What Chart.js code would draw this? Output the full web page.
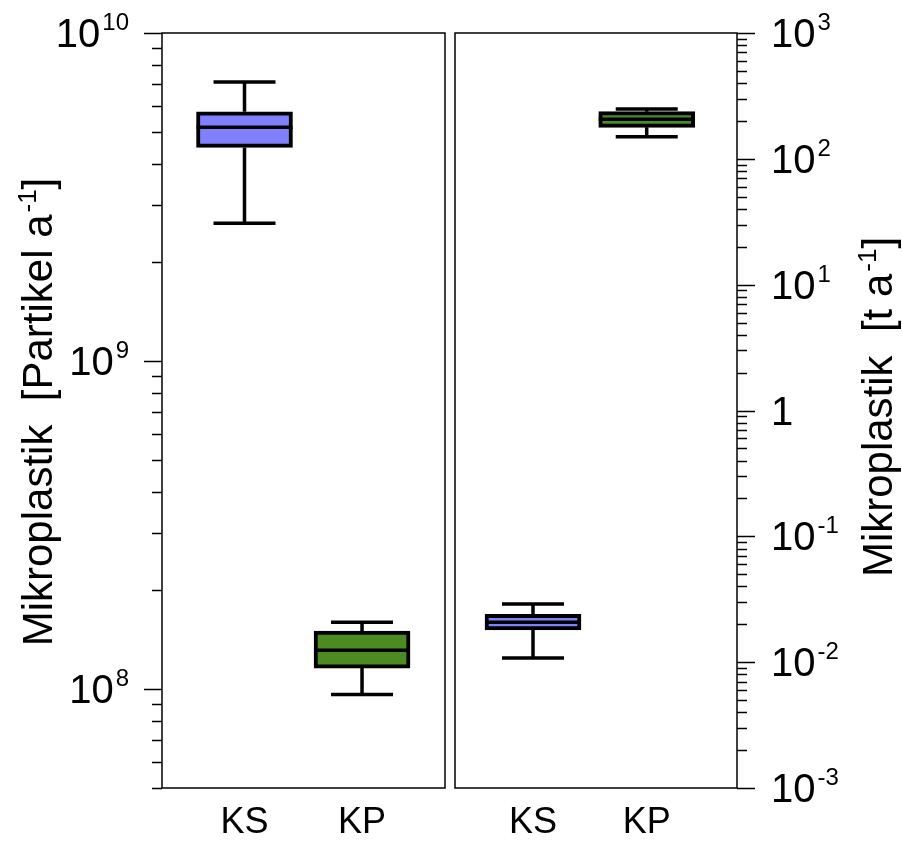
<!DOCTYPE html>
<html>
<head>
<meta charset="utf-8">
<script src="https://cdn.jsdelivr.net/npm/chart.js@4.4.0/dist/chart.umd.min.js"></script>
<style>
html, body { margin: 0; padding: 0; background: #fff; }
#wrap { position: relative; width: 902px; height: 841px; }
.panel { position: absolute; top: 0; height: 841px; }
#left { left: 0; width: 450px; }
#right { left: 450px; width: 452px; }
</style>
</head>
<body>
<div id="wrap">
  <div class="panel" id="left"><canvas id="cLeft"></canvas></div>
  <div class="panel" id="right"><canvas id="cRight"></canvas></div>
</div>
<script>
const categories = ['KS', 'KP']
const positions = [1, 2]
const boxColors = ['#8080ff', '#4b8b22']

// Mikroplastik in Partikel pro Jahr
const partMin = [2.63e9, 9.63e7]
const partQ1 = [4.48e9, 1.16e8]
const partMed = [5.16e9, 1.315e8]
const partQ3 = [5.75e9, 1.505e8]
const partMax = [7.09e9, 1.60e8]

// Mikroplastik in Tonnen pro Jahr
const tonMin = [0.0108, 150]
const tonQ1 = [0.0180, 178]
const tonMed = [0.0208, 206]
const tonQ3 = [0.0240, 237]
const tonMax = [0.0290, 249]

const leftTicks = [1e8, 1e9, 1e10]
const leftTickLabels = ['10^8', '10^9', '10^10']
const rightTicks = [1e-3, 1e-2, 1e-1, 1, 1e1, 1e2, 1e3]
const rightTickLabels = ['10^-3', '10^-2', '10^-1', '1', '10^1', '10^2', '10^3']

const FONT = "'Liberation Sans', Arial, sans-serif"

// text with one raised part: [base, sup, rest]
const drawSupText = (ctx, parts, x, y, size, supSize, supRise, align) => {
  const [base, sup, rest] = parts
  ctx.font = size + 'px ' + FONT
  const wb = ctx.measureText(base).width
  const wr = rest ? ctx.measureText(rest).width : 0
  ctx.font = supSize + 'px ' + FONT
  const ws = sup ? ctx.measureText(sup).width + 2 : 0
  const total = wb + ws + wr
  let sx = x
  if (align === 'right') sx = x - total
  if (align === 'center') sx = x - total / 2
  ctx.textAlign = 'left'
  ctx.textBaseline = 'alphabetic'
  ctx.font = size + 'px ' + FONT
  ctx.fillText(base, sx, y)
  if (sup) {
    ctx.font = supSize + 'px ' + FONT
    ctx.fillText(sup, sx + wb + 2, y - supRise)
  }
  if (rest) {
    ctx.font = size + 'px ' + FONT
    ctx.fillText(rest, sx + wb + ws, y)
  }
}

const splitLabel = (lbl) => {
  const i = lbl.indexOf('^')
  if (i < 0) return [lbl, '', '']
  return [lbl.slice(0, i), lbl.slice(i + 1), '']
}

const boxPlugin = {
  id: 'boxes',
  beforeDatasetsDraw(chart, args, opts) {
    const ctx = chart.ctx
    const x = chart.scales.x
    const y = chart.scales.y
    ctx.save()
    ctx.strokeStyle = '#000'
    ctx.lineWidth = 3.5
    opts.min.forEach((v, i) => {
      const px = x.getPixelForValue(positions[i])
      ctx.beginPath()
      ctx.moveTo(px, y.getPixelForValue(opts.max[i]))
      ctx.lineTo(px, y.getPixelForValue(opts.q3[i]))
      ctx.moveTo(px, y.getPixelForValue(opts.q1[i]))
      ctx.lineTo(px, y.getPixelForValue(v))
      ctx.moveTo(px - 31, y.getPixelForValue(opts.max[i]))
      ctx.lineTo(px + 31, y.getPixelForValue(opts.max[i]))
      ctx.moveTo(px - 31, y.getPixelForValue(v))
      ctx.lineTo(px + 31, y.getPixelForValue(v))
      ctx.stroke()
    })
    ctx.restore()
  },
  afterDatasetsDraw(chart, args, opts) {
    const ctx = chart.ctx
    const y = chart.scales.y
    const meta = chart.getDatasetMeta(0)
    ctx.save()
    ctx.strokeStyle = '#000'
    ctx.lineWidth = 3.5
    opts.med.forEach((v, i) => {
      const bar = meta.data[i]
      const py = y.getPixelForValue(v)
      ctx.beginPath()
      ctx.moveTo(bar.x - bar.width / 2, py)
      ctx.lineTo(bar.x + bar.width / 2, py)
      ctx.stroke()
    })
    ctx.restore()
  }
}

const framePlugin = {
  id: 'frame',
  afterDraw(chart, args, opts) {
    const ctx = chart.ctx
    const {left, right, top, bottom} = chart.chartArea
    const x = chart.scales.x
    const y = chart.scales.y
    ctx.save()
    ctx.strokeStyle = '#000'
    ctx.lineWidth = 1.5
    ctx.strokeRect(left, top, right - left, bottom - top)

    // log ticks
    const axisX = opts.side === 'left' ? left : right
    const dir = opts.side === 'left' ? -1 : 1
    const e0 = Math.floor(Math.log10(y.min) + 1e-9)
    const e1 = Math.ceil(Math.log10(y.max) - 1e-9)
    ctx.lineWidth = 1.5
    ctx.beginPath()
    for (let e = e0; e <= e1; e++) {
      for (let k = 1; k <= 9; k++) {
        const v = k * Math.pow(10, e)
        if (v < y.min * 0.999 || v > y.max * 1.001) continue
        const py = Math.round(y.getPixelForValue(v)) + 0.5
        const len = k === 1 ? 18 : 10
        ctx.moveTo(axisX, py)
        ctx.lineTo(axisX + dir * len, py)
      }
    }
    ctx.stroke()

    // tick labels
    ctx.fillStyle = '#000'
    opts.ticks.forEach((v, i) => {
      const py = y.getPixelForValue(v)
      const parts = splitLabel(opts.tickLabels[i])
      if (opts.side === 'left') {
        drawSupText(ctx, parts, axisX - 33, py + 14, 40, 24, 17, 'right')
      } else {
        drawSupText(ctx, parts, axisX + 34, py + 14, 40, 24, 17, 'left')
      }
    })

    // category labels
    ctx.font = '36px ' + FONT
    ctx.textAlign = 'center'
    ctx.textBaseline = 'alphabetic'
    categories.forEach((c, i) => {
      ctx.fillText(c, x.getPixelForValue(positions[i]), 833)
    })

    // axis title
    ctx.translate(opts.titleX, opts.titleY)
    ctx.rotate(-Math.PI / 2)
    drawSupText(ctx, opts.title, 0, 15, 42, 26, 16, 'center')
    ctx.restore()
  }
}

const makeChart = (id, d, cfg) => {
  return new Chart(document.getElementById(id), {
    type: 'bar',
    data: {
      datasets: [{
        data: positions.map((p, i) => ({x: p, y: [d.q1[i], d.q3[i]]})),
        backgroundColor: boxColors,
        borderColor: '#000',
        borderWidth: 4,
        borderSkipped: false,
        barThickness: 96
      }]
    },
    options: {
      responsive: true,
      maintainAspectRatio: false,
      animation: false,
      layout: { padding: cfg.padding },
      plugins: {
        legend: { display: false },
        tooltip: { enabled: false },
        boxes: d,
        frame: cfg
      },
      scales: {
        x: { type: 'linear', offset: false, min: cfg.xMin, max: cfg.xMax, display: false },
        y: { type: 'logarithmic', min: cfg.yMin, max: cfg.yMax, display: false }
      }
    },
    plugins: [boxPlugin, framePlugin]
  })
}

makeChart('cLeft',
  { min: partMin, q1: partQ1, med: partMed, q3: partQ3, max: partMax },
  {
    side: 'left', padding: { left: 162, right: 5, top: 33, bottom: 53 },
    xMin: 0.298, xMax: 2.706, yMin: 5e7, yMax: 1e10,
    ticks: leftTicks, tickLabels: leftTickLabels,
    title: ['Mikroplastik  [Partikel a', '-1', ']'], titleX: 37, titleY: 412
  })

makeChart('cRight',
  { min: tonMin, q1: tonQ1, med: tonMed, q3: tonQ3, max: tonMax },
  {
    side: 'right', padding: { left: 5, right: 165, top: 33, bottom: 53 },
    xMin: 0.314, xMax: 2.794, yMin: 1e-3, yMax: 1e3,
    ticks: rightTicks, tickLabels: rightTickLabels,
    title: ['Mikroplastik  [t a', '-1', ']'], titleX: 427, titleY: 407
  })
</script>
</body>
</html>
